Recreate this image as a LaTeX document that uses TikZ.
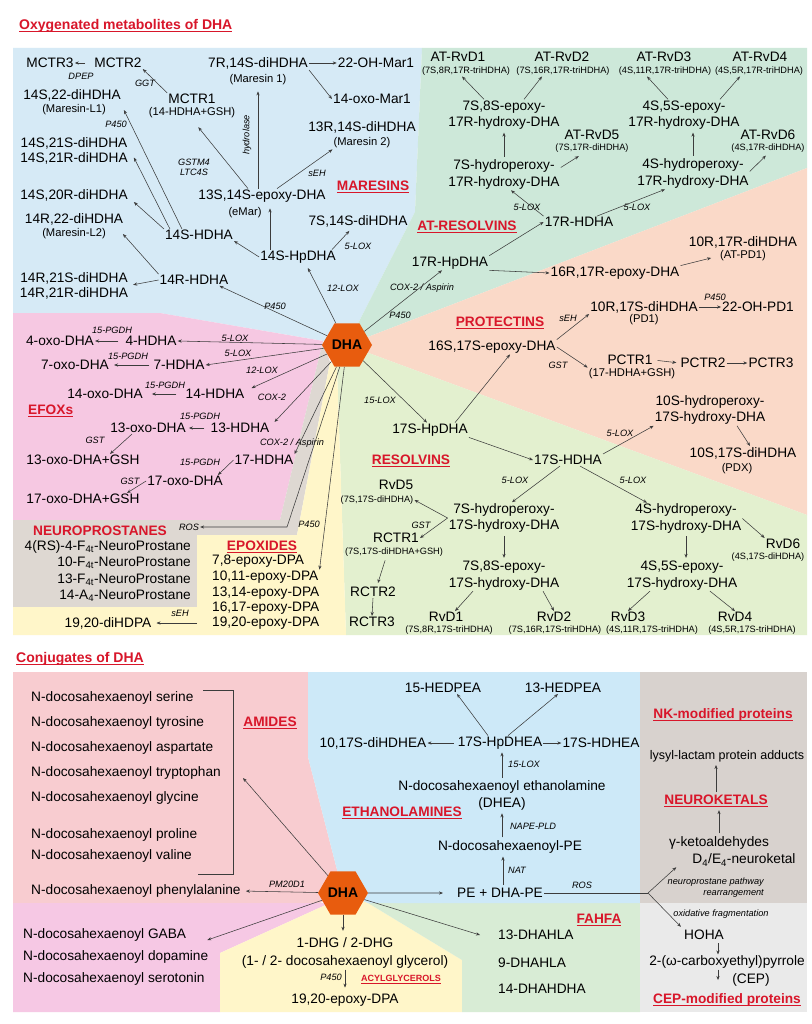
\documentclass[tikz,border=0pt]{standalone}
\usepackage{fontspec}
\setmainfont{Liberation Sans}
\usetikzlibrary{arrows.meta,shapes.geometric}
\definecolor{mares}{RGB}{214,234,246}
\definecolor{atres}{RGB}{205,232,217}
\definecolor{prot}{RGB}{250,217,200}
\definecolor{resol}{RGB}{227,240,207}
\definecolor{efox}{RGB}{246,200,226}
\definecolor{neuro}{RGB}{222,216,210}
\definecolor{epox}{RGB}{255,246,201}
\definecolor{amid}{RGB}{248,204,208}
\definecolor{amin}{RGB}{246,200,228}
\definecolor{etha}{RGB}{205,233,248}
\definecolor{fahf}{RGB}{216,236,213}
\definecolor{nket}{RGB}{216,210,206}
\definecolor{cepg}{RGB}{234,234,234}
\definecolor{hdred}{RGB}{216,22,42}
\definecolor{dhaor}{RGB}{232,92,14}
\definecolor{lnk}{RGB}{60,60,60}
\newsavebox{\hulbox}
\newcommand{\hul}[1]{\sbox{\hulbox}{#1}\rlap{\usebox{\hulbox}}\rule[-2.4pt]{\wd\hulbox}{1.1pt}}

\begin{document}
\begin{tikzpicture}[x=1pt, y=-1pt,
  lab/.style={font=\fontsize{13.7}{16.5}\selectfont, inner sep=1pt, align=center},
  sub/.style={font=\fontsize{9.2}{10}\selectfont, inner sep=1pt},
  subm/.style={font=\fontsize{11.2}{12}\selectfont, inner sep=1pt},
  enz/.style={font=\itshape\fontsize{9.2}{11}\selectfont, inner sep=1pt, align=center},
  head/.style={font=\bfseries\fontsize{13.7}{16}\selectfont, text=hdred, inner sep=1pt},
  ttl/.style={font=\bfseries\fontsize{14}{16}\selectfont, text=hdred, inner sep=1pt, anchor=west},
  hexa/.style={regular polygon, regular polygon sides=6, minimum size=50pt, inner sep=0pt,
               fill=dhaor, font=\bfseries\fontsize{14}{16}\selectfont},
  arr/.style={draw=lnk, line width=0.55pt, -{Stealth[length=4pt,width=3.2pt]}}]
  \useasboundingbox (0,0) rectangle (811,1024);
  \fill[white] (0,0) rectangle (811,1024);

  \fill[mares] (13,48) -- (422,48) -- (415,212) -- (347,345) -- (160,313) -- (13,313) -- cycle;
  \fill[atres] (422,48) -- (807,48) -- (807,168) -- (347,345) -- (415,212) -- cycle;
  \fill[prot] (807,168) -- (807,515) -- (347,345) -- cycle;
  \fill[resol] (807,515) -- (807,635) -- (346,635) -- (337,367) -- (347,345) -- cycle;
  \fill[efox] (13,313) -- (160,313) -- (323,341) -- (280,520) -- (13,520) -- cycle;
  \fill[neuro] (13,520) -- (280,520) -- (323,341) -- (330,362) -- (297,535) -- (197,535) -- (197,607) -- (13,607) -- cycle;
  \fill[epox] (330,362) -- (337,367) -- (346,635) -- (13,635) -- (13,607) -- (197,607) -- (197,535) -- (297,535) -- cycle;

  \fill[amid] (13,672) -- (308,672) -- (308,757) -- (343,893) -- (320,903) -- (13,903) -- cycle;
  \fill[amin] (13,903) -- (330,903) -- (220,953) -- (220,1012) -- (13,1012) -- cycle;
  \fill[epox] (330,903) -- (343,893) -- (368,903) -- (462,960) -- (462,1012) -- (220,1012) -- (220,953) -- cycle;
  \fill[fahf] (368,903) -- (640,903) -- (640,1012) -- (462,1012) -- (462,960) -- cycle;
  \fill[etha] (308,672) -- (640,672) -- (640,903) -- (368,903) -- (343,893) -- (308,757) -- cycle;
  \fill[nket] (640,672) rectangle (807,903);
  \fill[cepg] (640,903) rectangle (807,1012);

  \node[ttl] (ttl1) at (18,26) {\hul{Oxygenated metabolites of DHA}};
  \node[hexa] (dha) at (347,345) {DHA};

  \node[lab] (mctr3) at (50,63) {MCTR3};
  \node[lab] (mctr2) at (118,63) {MCTR2};
  \node[enz] (dpep) at (81,76) {DPEP};
  \node[enz] (ggt) at (145,83) {GGT};
  \node[lab] (mctr1) at (192,99) {MCTR1};
  \node[subm] (mctr1s) at (192,113) {(14-HDHA+GSH)};
  \node[lab] (mar1) at (258,63) {7R,14S-diHDHA};
  \node[subm] (mar1s) at (258,80) {(Maresin 1)};
  \node[lab] (ohmar) at (376,63) {22-OH-Mar1};
  \node[lab] (oxomar) at (372,99) {14-oxo-Mar1};
  \node[lab] (mar2) at (362,127) {13R,14S-diHDHA};
  \node[subm] (mar2s) at (362,143) {(Maresin 2)};
  \node[lab] (mls22) at (72,95) {14S,22-diHDHA};
  \node[subm] (mls22s) at (74,110) {(Maresin-L1)};
  \node[enz] (p450a) at (116,124) {P450};
  \node[lab] (mls21) at (74,150.5) {14S,21S-diHDHA\\[-1.5pt]14S,21R-diHDHA};
  \node[enz, font=\itshape\fontsize{9.2}{10.5}\selectfont] (gstm) at (194,167.5) {GSTM4\\LTC4S};
  \node[enz, rotate=90] (hydro) at (247,135) {hydrolase};
  \node[lab] (emar) at (262,196) {13S,14S-epoxy-DHA};
  \node[subm] (emars) at (245,213) {(eMar)};
  \node[enz] (seh1) at (317,173) {sEH};
  \node[head] (hmar) at (373,187) {\hul{MARESINS}};
  \node[lab] (mls20) at (74,195) {14S,20R-diHDHA};
  \node[lab] (mlr22) at (74,219) {14R,22-diHDHA};
  \node[subm] (mlr22s) at (74,234) {(Maresin-L2)};
  \node[lab] (d7s14s) at (358,221) {7S,14S-diHDHA};
  \node[lab] (h14s) at (199,235) {14S-HDHA};
  \node[enz] (lox5a) at (358,246) {5-LOX};
  \node[lab] (hp14s) at (298,257) {14S-HpDHA};
  \node[lab] (mlr21) at (74,285.5) {14R,21S-diHDHA\\[-1.5pt]14R,21R-diHDHA};
  \node[lab] (h14r) at (194,280) {14R-HDHA};
  \node[enz] (lox12a) at (343,288) {12-LOX};
  \node[enz] (p450b) at (275,306) {P450};

  \node[lab] (atd1) at (458,57) {AT-RvD1};
  \node[sub] (atd1s) at (466,71) {(7S,8R,17R-triHDHA)};
  \node[lab] (atd2) at (562,57) {AT-RvD2};
  \node[sub] (atd2s) at (563,71) {(7S,16R,17R-triHDHA)};
  \node[lab] (atd3) at (664,57) {AT-RvD3};
  \node[sub] (atd3s) at (665,71) {(4S,11R,17R-triHDHA)};
  \node[lab] (atd4) at (760,57) {AT-RvD4};
  \node[sub] (atd4s) at (759,71) {(4S,5R,17R-triHDHA)};
  \node[lab] (atep7) at (504,115) {7S,8S-epoxy-\\17R-hydroxy-DHA};
  \node[lab] (athp7) at (504,174.5) {7S-hydroperoxy-\\17R-hydroxy-DHA};
  \node[lab] (atd5) at (592,135) {AT-RvD5};
  \node[sub] (atd5s) at (592,148) {(7S,17R-diHDHA)};
  \node[lab] (atep4) at (684,115) {4S,5S-epoxy-\\17R-hydroxy-DHA};
  \node[lab] (athp4) at (693,173.5) {4S-hydroperoxy-\\17R-hydroxy-DHA};
  \node[lab] (atd6) at (768,135) {AT-RvD6};
  \node[sub] (atd6s) at (768,148) {(4S,17R-diHDHA)};
  \node[lab] (h17r) at (579,222) {17R-HDHA};
  \node[enz] (lox5b) at (527,207) {5-LOX};
  \node[enz] (lox5c) at (637,207) {5-LOX};
  \node[head] (hatr) at (467,227) {\hul{AT-RESOLVINS}};
  \node[lab] (hp17r) at (450,263) {17R-HpDHA};
  \node[enz] (coxa) at (422,288) {COX-2 / Aspirin};
  \node[enz] (p450c) at (400,315) {P450};

  \node[lab] (ep16r) at (615,273) {16R,17R-epoxy-DHA};
  \node[lab] (atpd1) at (743,242) {10R,17R-diHDHA};
  \node[subm] (atpd1s) at (743,256) {(AT-PD1)};
  \node[lab] (pd1) at (644,307) {10R,17S-diHDHA};
  \node[subm] (pd1s) at (644,320) {(PD1)};
  \node[enz] (p450d) at (715,297) {P450};
  \node[lab] (ohpd1) at (758,307) {22-OH-PD1};
  \node[head] (hprot) at (500,323) {\hul{PROTECTINS}};
  \node[enz] (seh2) at (568,318) {sEH};
  \node[lab] (ep16s) at (492,347) {16S,17S-epoxy-DHA};
  \node[enz] (gsta) at (558,365) {GST};
  \node[lab] (pctr1) at (630,360) {PCTR1};
  \node[subm] (pctr1s) at (632,374) {(17-HDHA+GSH)};
  \node[lab] (pctr2) at (703,363) {PCTR2};
  \node[lab] (pctr3) at (771,363) {PCTR3};
  \node[lab] (hp10s) at (710,410) {10S-hydroperoxy-\\17S-hydroxy-DHA};
  \node[lab] (pdx) at (743,453) {10S,17S-diHDHA};
  \node[subm] (pdxs) at (737,469) {(PDX)};
  \node[enz] (lox5d) at (620,433) {5-LOX};

  \node[enz] (lox15a) at (380,400) {15-LOX};
  \node[lab] (hp17s) at (430,430) {17S-HpDHA};
  \node[lab] (h17s) at (568,460) {17S-HDHA};
  \node[head] (hres) at (411,461) {\hul{RESOLVINS}};
  \node[enz] (lox5e) at (515,480) {5-LOX};
  \node[enz] (lox5f) at (633,480) {5-LOX};
  \node[lab] (rvd5) at (396,485) {RvD5};
  \node[sub] (rvd5s) at (377,500) {(7S,17S-diHDHA)};
  \node[lab] (hp7s) at (504,518) {7S-hydroperoxy-\\17S-hydroxy-DHA};
  \node[lab] (hp4s) at (686,518.5) {4S-hydroperoxy-\\17S-hydroxy-DHA};
  \node[lab] (rctr1) at (396,538) {RCTR1};
  \node[sub] (rctr1s) at (394,552) {(7S,17S-diHDHA+GSH)};
  \node[enz] (gstb) at (421,525) {GST};
  \node[lab] (rvd6) at (783,544) {RvD6};
  \node[sub] (rvd6s) at (768,557) {(4S,17S-diHDHA)};
  \node[lab] (ep7s) at (504,575.5) {7S,8S-epoxy-\\17S-hydroxy-DHA};
  \node[lab] (ep4s) at (682,575.5) {4S,5S-epoxy-\\17S-hydroxy-DHA};
  \node[lab] (rctr2) at (373,592) {RCTR2};
  \node[lab] (rctr3) at (372,622) {RCTR3};
  \node[lab] (rvd1) at (446,617) {RvD1};
  \node[sub] (rvd1s) at (449,630) {(7S,8R,17S-triHDHA)};
  \node[lab] (rvd2) at (554,617) {RvD2};
  \node[sub] (rvd2s) at (555,630) {(7S,16R,17S-triHDHA)};
  \node[lab] (rvd3) at (628,617) {RvD3};
  \node[sub] (rvd3s) at (652,630) {(4S,11R,17S-triHDHA)};
  \node[lab] (rvd4) at (735,617) {RvD4};
  \node[sub] (rvd4s) at (752,630) {(4S,5R,17S-triHDHA)};

  \node[lab] (oxo4) at (60,341) {4-oxo-DHA};
  \node[enz] (pg4) at (112,330) {15-PGDH};
  \node[lab] (h4) at (151,341) {4-HDHA};
  \node[enz] (lox5g) at (235,338) {5-LOX};
  \node[lab] (oxo7) at (75,365) {7-oxo-DHA};
  \node[enz] (pg7) at (128,356) {15-PGDH};
  \node[lab] (h7) at (179,365) {7-HDHA};
  \node[enz] (lox5h) at (238,353) {5-LOX};
  \node[enz] (lox12b) at (262,370) {12-LOX};
  \node[lab] (oxo14) at (105,394) {14-oxo-DHA};
  \node[enz] (pg14) at (165,385) {15-PGDH};
  \node[lab] (h14) at (215,394) {14-HDHA};
  \node[enz] (coxb) at (272,397) {COX-2};
  \node[head, anchor=west] (hefox) at (27,411) {\hul{EFOXs}};
  \node[lab] (oxo13) at (148,428) {13-oxo-DHA};
  \node[enz] (pg13) at (200,416) {15-PGDH};
  \node[lab] (h13) at (240,428) {13-HDHA};
  \node[enz] (gstc) at (95,440) {GST};
  \node[enz] (coxc) at (292,443) {COX-2 / Aspirin};
  \node[lab] (oxo13g) at (83,460) {13-oxo-DHA+GSH};
  \node[enz] (pg17) at (200,462) {15-PGDH};
  \node[lab] (h17) at (264,460) {17-HDHA};
  \node[enz] (gstd) at (130,481) {GST};
  \node[lab] (oxo17) at (185,481) {17-oxo-DHA};
  \node[lab] (oxo17g) at (83,499) {17-oxo-DHA+GSH};

  \node[head] (hneuro) at (100,531) {NEUROPROSTANES};
  \node[enz] (ros) at (189,527) {ROS};
  \coordinate (roscorner) at (287,527);
  \foreach \i/\y/\t in {1/547/4(RS)-4-F\textsubscript{4t}-NeuroProstane,
                        2/563/10-F\textsubscript{4t}-NeuroProstane,
                        3/580/13-F\textsubscript{4t}-NeuroProstane,
                        4/596/14-A\textsubscript{4}-NeuroProstane}
    \node[lab, anchor=east] (np\i) at (192,\y) {\t};
  \node[head] (hepox) at (262,547) {\hul{EPOXIDES}};
  \node[enz] (p450f) at (309,524) {P450};
  \foreach \i/\y/\t in {1/561/{7,8-epoxy-DPA}, 2/577/{10,11-epoxy-DPA}, 3/593/{13,14-epoxy-DPA},
                        4/608/{16,17-epoxy-DPA}, 5/623/{19,20-epoxy-DPA}}
    \node[lab, anchor=west] (ep\i) at (211,\y) {\t};
  \node[lab] (dihdpa) at (108,623) {19,20-diHDPA};
  \node[enz] (seh3) at (180,613) {sEH};

  \draw[arr, shorten <=8pt] (mctr2.west) -- (mctr3.east);
  \draw[arr] (mctr1.north west) -- (mctr2.south east);
  \draw[arr, shorten >=10pt] ([xshift=-14pt]emar.north) -- (mctr1s.south);
  \draw[arr, shorten >=5pt] ([xshift=-4pt]emar.north) -- ([xshift=-4pt]emar.north |- mar1s.south);
  \draw[arr] (mar1.east) -- (ohmar.west);
  \draw[arr] (mar1.south east) -- (oxomar.west);
  \draw[arr] ([xshift=15pt]emar.north) -- (mar2s.south west);
  \draw[arr, shorten >=5pt] ([xshift=-28pt]hp14s.north) -- ([xshift=-28pt]hp14s.north |- emar.south);
  \draw[arr] (hp14s.west) -- (h14s.south east);
  \draw[arr, shorten >=4pt] ([xshift=34pt]hp14s.north) -- ([xshift=-6pt]d7s14s.south);
  \draw[arr, shorten >=4pt] (dha) -- ([xshift=8pt]hp14s.south);
  \draw[arr] (dha) -- ([xshift=-10pt]h14r.south east);
  \draw[arr] (h14r.north west) -- ([xshift=16pt]mlr22s.east);
  \draw[arr, shorten >=4pt] (h14r.west) -- (mlr21.east);
  \draw[arr] (h14s.north west) -- ([xshift=5pt]mls20.south east);
  \draw[arr] ([xshift=6pt]h14s.north west) -- ([xshift=5pt,yshift=-7pt]mls21.east);
  \draw[arr] ([xshift=18pt]h14s.north west) -- ([xshift=17pt]mls22s.east);

  \draw[arr] ([xshift=-20pt]atep7.north) -- ([xshift=-4pt]atd1s.south);
  \draw[arr] ([xshift=20pt]atep7.north) -- ([xshift=-21pt]atd2s.south);
  \draw[arr, shorten <=2pt, shorten >=2pt] (athp7.north) -- (athp7.north |- atep7.south);
  \draw[arr, shorten >=5pt] ([yshift=7pt]athp7.east) -- ([xshift=-9pt]atd5s.south);
  \draw[arr] ([xshift=-16pt]atep4.north) -- ([xshift=-18pt]atd3s.south);
  \draw[arr] ([xshift=36pt]atep4.north) -- ([xshift=-19pt]atd4s.south);
  \draw[arr, shorten <=2pt, shorten >=2pt] (athp4.north) -- (athp4.north |- atep4.south);
  \draw[arr, shorten >=3pt] ([yshift=2pt]athp4.east) -- (atd6s.south);
  \draw[arr] (h17r.north west) -- ([xshift=7pt]athp7.south);
  \draw[arr] ([xshift=18pt]h17r.north) -- ([xshift=-28pt]athp4.south);
  \draw[arr] (hp17r.north east) -- (h17r.west);
  \draw[arr] (hp17r.south east) -- (ep16r.west);
  \draw[arr] (dha) -- ([xshift=-8pt]hp17r.south);

  \draw[arr, shorten >=8pt] (ep16r.north east) -- (atpd1s.west);
  \draw[arr] (pd1.east) -- (ohpd1.west);
  \draw[arr] (ep16s.north east) -- (pd1.south west);
  \draw[arr] (ep16s.east) -- (pctr1s.north west);
  \draw[arr, shorten <=4pt, shorten >=3pt] (pctr1.east) -- (pctr2.west);
  \draw[arr] (pctr2.east) -- (pctr3.west);
  \draw[arr] ([xshift=27pt]hp10s.south) -- ([xshift=7pt]pdx.north);
  \draw[arr] (h17s.north east) -- (hp10s.south west);
  \draw[arr] ([xshift=25pt]hp17s.north) -- ([xshift=18pt]ep16s.south);
  \draw[arr] (dha) -- ([xshift=-3pt]hp17s.north);

  \draw[arr] (hp17s.south east) -- (h17s.west);
  \draw[arr] ([xshift=-8pt]h17s.south) -- ([xshift=8pt]hp7s.north);
  \draw[arr] ([xshift=12pt]h17s.south) -- ([xshift=-39pt]hp4s.north);
  \draw[arr] (hp7s.west) -- (rvd5s.east);
  \draw[arr] (hp7s.west) -- (rctr1.east);
  \draw[arr, shorten <=3pt, shorten >=3pt] ([xshift=-8pt]rctr1s.south) -- ([xshift=4pt]rctr2.north);
  \draw[arr] (rctr2.south) -- (rctr3.north);
  \draw[arr, shorten <=2pt, shorten >=2pt] (hp7s.south) -- (hp7s.south |- ep7s.north);
  \draw[arr] ([xshift=-31pt]ep7s.south) -- ([xshift=9pt]rvd1.north);
  \draw[arr] ([xshift=39pt]ep7s.south) -- (rvd2.north);
  \draw[arr] (hp4s.east) -- (rvd6.north west);
  \draw[arr, shorten <=2pt, shorten >=2pt] (hp4s.south) -- (hp4s.south |- ep4s.north);
  \draw[arr] ([xshift=-32pt]ep4s.south) -- (rvd3.north);
  \draw[arr] ([xshift=28pt]ep4s.south) -- (rvd4.north);

  \draw[arr] (dha) -- (h4.east);
  \draw[arr, shorten <=6pt] (h4.west) -- (oxo4.east);
  \draw[arr] (dha) -- (h7.east);
  \draw[arr, shorten <=3pt, shorten >=4pt] (h7.west) -- (oxo7.east);
  \draw[arr] (dha) -- ([xshift=6pt]h14.north east);
  \draw[arr, shorten <=8pt, shorten >=8pt] (h14.west) -- (oxo14.east);
  \draw[arr] (dha) -- ([xshift=4pt]h13.north east);
  \draw[arr, shorten <=5pt, shorten >=2pt] (h13.west) -- (oxo13.east);
  \draw[arr] ([xshift=-16pt]oxo13.south) -- ([xshift=27pt]oxo13g.north);
  \draw[arr] (dha) -- (h17.north east);
  \draw[arr] (h17.west) -- ([xshift=-6pt]oxo17.north east);
  \draw[arr] (oxo17.west) -- ([xshift=44pt]oxo17g.north);

  \draw[arr] (dha) -- (roscorner) -- (ros.east);
  \draw[arr] (dha) -- (ep2.north east);
  \draw[arr, shorten <=14pt, shorten >=4pt] (ep5.west) -- (dihdpa.east);

  \node[ttl] (ttl2) at (15,659) {\hul{Conjugates of DHA}};
  \node[hexa] (dha2) at (343,893) {DHA};
  \foreach \n/\y/\t in {ser/698/serine, tyr/723/tyrosine, asp/748/aspartate, trp/773/tryptophan,
                        gly/798/glycine, pro/835/proline, val/856/valine, phe/891/phenylalanine}
    \node[lab, anchor=west] (\n) at (30,\y) {N-docosahexaenoyl \t};
  \draw[lnk, line width=0.6pt] (203,690) -- (233,690) -- (233,874) -- (198,874);
  \node[head] (hamid) at (270,723) {\hul{AMIDES}};
  \coordinate (amidtip) at (243,778);
  \node[enz] (pm) at (287,884) {PM20D1};
  \foreach \n/\y/\t in {gaba/935/GABA, dopa/957/dopamine, sero/979/serotonin}
    \node[lab, anchor=west] (\n) at (22,\y) {N-docosahexaenoyl \t};
  \node[lab] (dhg) at (345,943) {1-DHG / 2-DHG};
  \node[lab] (dhgs) at (345,962) {(1- / 2- docosahexaenoyl glycerol)};
  \node[enz] (p450e) at (331,977) {P450};
  \node[head, font=\bfseries\fontsize{9}{10}\selectfont] (hacyl) at (401,980) {\hul{ACYLGLYCEROLS}};
  \node[lab] (epdpa) at (345,1000) {19,20-epoxy-DPA};
  \foreach \n/\y/\t in {fa13/935/13-DHAHLA, fa9/963/9-DHAHLA, fa14/989/14-DHAHDHA}
    \node[lab, anchor=west] (\n) at (497,\y) {\t};
  \node[head] (hfahfa) at (599,920) {\hul{FAHFA}};
  \node[lab] (pe) at (500,893) {PE + DHA-PE};
  \node[enz] (nat) at (517,870) {NAT};
  \node[lab] (npe) at (510,847) {N-docosahexaenoyl-PE};
  \node[enz] (nape) at (533,826) {NAPE-PLD};
  \node[lab] (dhea) at (502,795.5) {N-docosahexaenoyl ethanolamine\\(DHEA)};
  \node[head] (heth) at (402,813) {\hul{ETHANOLAMINES}};
  \node[enz] (lox15b) at (524,764) {15-LOX};
  \node[lab] (hpdhea) at (500,743) {17S-HpDHEA};
  \node[lab] (dihdhea) at (373,743) {10,17S-diHDHEA};
  \node[lab] (hdhea) at (601,743) {17S-HDHEA};
  \node[lab] (he15) at (443,688) {15-HEDPEA};
  \node[lab] (he13) at (563,688) {13-HEDPEA};
  \node[enz] (ros2) at (582,885) {ROS};
  \coordinate (rosbr) at (648,893);
  \node[lab] (gamma) at (719,843) {γ-ketoaldehydes};
  \node[lab] (nketal) at (744,860) {D\textsubscript{4}/E\textsubscript{4}-neuroketal};
  \node[enz, align=right, anchor=east] (npw) at (765,887.5) {neuroprostane pathway\\rearrangement};
  \node[head] (hnket) at (716,801) {\hul{NEUROKETALS}};
  \node[lab, font=\fontsize{12.5}{14}\selectfont] (lysyl) at (727,756) {lysyl-lactam protein adducts};
  \node[head] (hnk) at (723,715) {\hul{NK-modified proteins}};
  \node[enz] (oxfr) at (721,914) {oxidative fragmentation};
  \node[lab] (hoha) at (704,935) {HOHA};
  \node[lab] (cep) at (727,962) {2-(ω-carboxyethyl)pyrrole};
  \node[lab] (ceps) at (751,980) {(CEP)};
  \node[head] (hcep) at (727,1000) {\hul{CEP-modified proteins}};

  \draw[arr] (dha2) -- (amidtip);
  \draw[arr, shorten >=4pt] (dha2) -- (phe.east);
  \draw[arr] (dha2) -- ([xshift=20pt,yshift=-5pt]gaba.east);
  \draw[arr, shorten >=6pt] (dha2.south) -- (dha2.south |- dhg.north);
  \draw[arr, shorten >=5pt] (dhgs.south) -- (dhgs.south |- epdpa.north);
  \draw[arr] (dha2) -- ([xshift=-17pt]fa13.west);
  \draw[arr, shorten >=13pt] (dha2) -- (pe.west);
  \draw[arr, shorten <=2pt, shorten >=2pt] ([xshift=3pt]pe.north) -- ([xshift=3pt]pe.north |- npe.south);
  \draw[arr, shorten <=2pt, shorten >=2pt] (dhea.south |- npe.north) -- (dhea.south);
  \draw[arr, shorten <=2pt, shorten >=2pt] (dhea.north) -- (dhea.north |- hpdhea.south);
  \draw[arr, shorten <=3pt] (hpdhea.west) -- (dihdhea.east);
  \draw[arr] (hpdhea.east) -- (hdhea.west);
  \draw[arr] ([xshift=-12pt]hpdhea.north) -- ([xshift=14pt]he15.south);
  \draw[arr] ([xshift=8pt]hpdhea.north) -- ([xshift=-5pt]he13.south);
  \draw[lnk, line width=0.55pt] (pe.east) -- (rosbr);
  \draw[arr] (rosbr) -- ([xshift=-15pt]nketal.south west);
  \draw[arr, shorten >=3pt] (rosbr) -- (hoha.north west);
  \draw[arr, shorten <=2pt, shorten >=2pt] (gamma.north) -- (gamma.north |- hnket.south);
  \draw[arr, shorten <=2pt, shorten >=2pt] (hnket.north) -- (hnket.north |- lysyl.south);
  \draw[arr, shorten <=2pt] ([xshift=14pt]hoha.south) -- ([xshift=14pt]hoha.south |- cep.north);
  \draw[arr] ([xshift=-9pt]cep.south) -- ([xshift=-9pt]cep.south |- ceps.center);
\end{tikzpicture}
\end{document}
